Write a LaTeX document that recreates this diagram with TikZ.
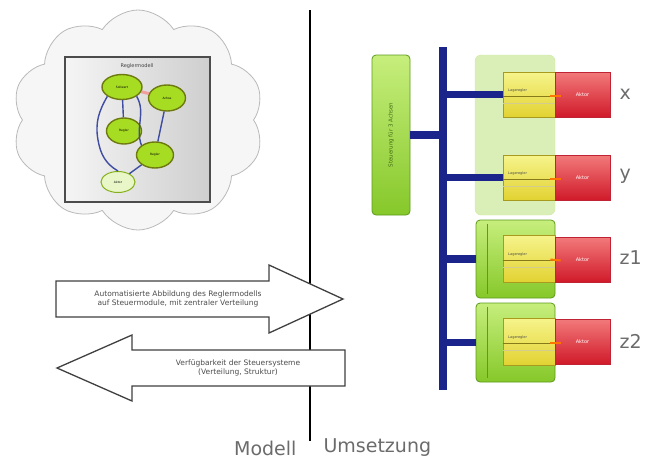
\documentclass[tikz,border=0pt]{standalone}
\usepackage{fontspec}
\setmainfont{DejaVu Sans}
\usetikzlibrary{shapes.symbols,shapes.geometric}

\definecolor{busblue}{HTML}{1B248A}
\definecolor{ctrlgreen}{HTML}{86C82A}
\definecolor{ctrlgreenlight}{HTML}{C6EE7C}
\definecolor{ctrlgreendark}{HTML}{5E9A1C}
\definecolor{grouplight}{HTML}{DAEFB8}
\definecolor{regtop}{HTML}{F6F48C}
\definecolor{regbot}{HTML}{E2D232}
\definecolor{regdraw}{HTML}{A89A1E}
\definecolor{akttop}{HTML}{F27A7A}
\definecolor{aktbot}{HTML}{D01A2A}
\definecolor{aktdraw}{HTML}{C02434}
\definecolor{gfill}{HTML}{A6DC22}
\definecolor{gdraw}{HTML}{6E7A10}
\definecolor{edgeblue}{HTML}{3E4CA2}

\tikzset{
  lbl/.style={font=\fontsize{19}{22}\selectfont, text=black!58},
  bigarrow/.style={draw=black!75, fill=white, line width=1.3pt, line join=miter},
  arrowtext/.style={font=\fontsize{7.5}{9.5}\selectfont, text=black!70, align=center},
  ctrlbox/.style={rounded corners=4pt, draw=ctrlgreendark, top color=ctrlgreenlight,
    bottom color=ctrlgreen, line width=0.8pt, inner sep=0pt},
  groupbox/.style={rounded corners=6pt, draw=grouplight!85!ctrlgreen, fill=grouplight, inner sep=0pt},
  regbox/.style={draw=regdraw, top color=regtop, bottom color=regbot, line width=0.6pt,
    inner sep=0pt, minimum width=52pt},
  aktbox/.style={draw=aktdraw, top color=akttop, bottom color=aktbot, line width=0.6pt,
    text=white, font=\fontsize{5}{6}\selectfont, inner sep=0pt, minimum width=55pt, minimum height=45pt},
  regtext/.style={font=\fontsize{3.5}{4}\selectfont, text=black!70},
  regline/.style={draw=regdraw!80!black, line width=0.6pt},
  plug/.style={draw=orange!90!red, line width=2pt},
  zline/.style={draw=ctrlgreendark, line width=1pt},
  busline/.style={draw=busblue, line width=7.5pt},
  gnode/.style={ellipse, draw=gdraw, line width=1.4pt, fill=gfill, inner sep=0pt,
    font=\fontsize{3}{3.5}\selectfont},
  medge/.style={draw=edgeblue, line width=1.4pt}
}

\begin{document}
\begin{tikzpicture}[x=1pt,y=-1pt]
\useasboundingbox (0,0) rectangle (648,461);

% ---- model side: cloud with the controller graph ----
\node[cloud, cloud puffs=10, cloud puff arc=115, aspect=1.15, draw=gray!55, fill=gray!7,
      line width=0.8pt, minimum width=252pt, minimum height=220pt] (cloud) at (138,120) {};

\node[draw=black!70, line width=1.3pt, left color=gray!8, right color=gray!38,
      minimum width=145pt, minimum height=145pt, inner sep=0pt] (model) at (137.5,129.5) {};
\node[font=\fontsize{5}{6}\selectfont, text=black!75] (mtitle) at (137,66) {Reglermodell};

\node[gnode, minimum width=40pt, minimum height=25pt] (n1) at (122,87) {Sollwert};
\node[gnode, minimum width=37pt, minimum height=26pt] (n2) at (167,98) {Achse};
\node[gnode, minimum width=35pt, minimum height=26pt] (n3) at (124,131) {Regler};
\node[gnode, minimum width=37pt, minimum height=26pt] (n4) at (155,155) {Regler};
\node[gnode, draw=gfill!80!black, fill=gfill!25, line width=1pt,
      minimum width=34pt, minimum height=21pt] (n5) at (118,182) {Aktor};

\draw[red!55, line width=3pt, opacity=0.6] (n1) -- (n2);
\draw[medge] (n1.south west) to[out=240, in=100] (98,140) to[out=280, in=150] (n5.north);
\draw[medge] (n1) -- (n3);
\draw[medge] (n1.south east) to[out=-60, in=110] (n4.north west);
\draw[medge] (n2) -- (n4);
\draw[medge] (n4) -- (n5);

% ---- separator between model and realisation ----
\coordinate (septop) at (310,10);
\coordinate (sepbot) at (310,441);
\draw[line width=2pt] (septop) -- (sepbot);
\node[lbl, anchor=east] (lmodell) at (300,448) {Modell};
\node[lbl, anchor=west] (lumsetz) at (320,448) {Umsetzung};

% ---- transfer arrows ----
\draw[bigarrow] (56,281) -- (269,281) -- (269,265) -- (343,299) -- (269,333)
      -- (269,317) -- (56,317) -- cycle;
\node[arrowtext] (ttext) at (178,299)
  {Automatisierte Abbildung des Reglermodells\\auf Steuermodule, mit zentraler Verteilung};

\draw[bigarrow] (345,350) -- (132,350) -- (132,335) -- (57,368) -- (132,401)
      -- (132,386) -- (345,386) -- cycle;
\node[arrowtext] (btext) at (238,368)
  {Verfügbarkeit der Steuersysteme\\(Verteilung, Struktur)};

% ---- realisation side ----
\node[ctrlbox, minimum width=38pt, minimum height=160pt] (ctrl) at (391,135) {};
\node[rotate=90, font=\fontsize{5.5}{6}\selectfont, text=ctrlgreendark!70!black] (ctrltext)
  at (ctrl.center) {Steuerung für 3 Achsen};

\node[groupbox, minimum width=80pt, minimum height=160pt] (grp) at (515,135) {};

\node[ctrlbox, minimum width=79pt, minimum height=78pt] (gz1) at (515.5,259) {};
\node[ctrlbox, minimum width=79pt, minimum height=79pt] (gz2) at (515.5,342.5) {};
\draw[zline] ([xshift=12pt,yshift=-4pt]gz1.north west) -- ([xshift=12pt,yshift=4pt]gz1.south west);
\draw[zline] ([xshift=12pt,yshift=-4pt]gz2.north west) -- ([xshift=12pt,yshift=4pt]gz2.south west);

% axis modules: regulator (yellow) and actuator (red)
\node[regbox, minimum height=45pt] (rx)  at (529,94.5)  {};
\node[regbox, minimum height=45pt] (ry)  at (529,177.5) {};
\node[regbox, minimum height=47pt] (rz1) at (529,258.5) {};
\node[regbox, minimum height=47pt] (rz2) at (529,341.5) {};

\node[aktbox] (ax)  at (582.5,94.5)  {Aktor};
\node[aktbox] (ay)  at (582.5,177.5) {Aktor};
\node[aktbox] (az1) at (582.5,259.5) {Aktor};
\node[aktbox] (az2) at (582.5,341.5) {Aktor};

\foreach \r/\a in {rx/ax, ry/ay, rz1/az1, rz2/az2}{
  \draw[regline] ([yshift=-2pt]\r.west) -- ([yshift=-2pt]\r.east);
  \draw[regline, draw=regdraw!50] ([yshift=-9pt]\r.west) -- ([yshift=-9pt]\r.east);
  \node[regtext, anchor=south west] at ([xshift=2pt,yshift=-1.5pt]\r.west) {Lageregler};
  \draw[plug] ([xshift=-5pt,yshift=-1pt]\r.east) -- ([xshift=6pt,yshift=-1pt]\a.west);
}

% field bus
\coordinate (bustop) at (443,47);
\coordinate (busbot) at (443,390);
\draw[busline] (bustop) -- (busbot);
\draw[busline] (ctrl.east) -- (ctrl.east -| bustop);
\draw[busline] (rx.west -| bustop) -- (rx.west);
\draw[busline] (ry.west -| bustop) -- (ry.west);
\draw[busline] (gz1.west -| bustop) -- (gz1.west);
\draw[busline] (gz2.west -| bustop) -- (gz2.west);

% axis names
\node[lbl, anchor=west] (lx)  at (616,94)  {x};
\node[lbl, anchor=west] (ly)  at (616,176) {y};
\node[lbl, anchor=west] (lz1) at (616,258) {z1};
\node[lbl, anchor=west] (lz2) at (616,341) {z2};
\end{tikzpicture}
\end{document}
